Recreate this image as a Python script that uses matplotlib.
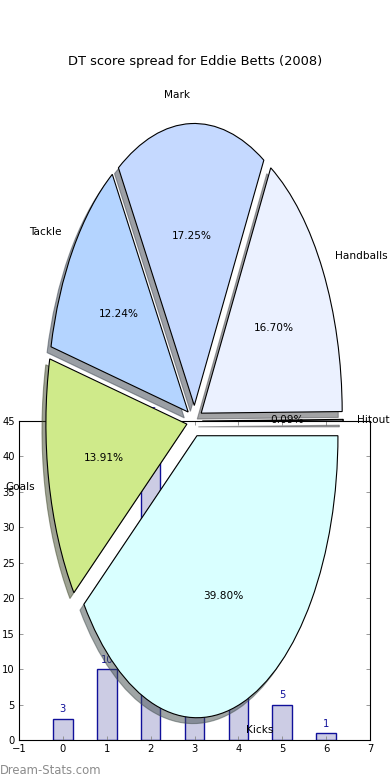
import matplotlib
matplotlib.use('Agg')
import matplotlib.pyplot as plt

# pie data (counterclockwise from 0 degrees)
pie_labels = ['Hitout', 'Handballs', 'Mark', 'Tackle', 'Goals', 'Kicks']
pie_pcts = [0.09, 16.70, 17.25, 12.24, 13.91, 39.80]
pie_colors = ['#f4f6ff', '#ebf1ff', '#c5d9ff', '#b4d4ff', '#cfea8a', '#d9ffff']

# bar data (bars 3 and 4 are hidden behind the pie)
bar_x = [0, 1, 2, 3, 4, 5, 6]
bar_vals = [3, 10, 45, 25, 12, 5, 1]

plt.rcParams['font.family'] = 'DejaVu Sans'

fig = plt.figure(figsize=(3.9, 7.8), dpi=100)

# bar axes, underneath
axb = fig.add_axes([19/390., 40/780., 351/390., 319/780.])
axb.bar(bar_x, bar_vals, width=0.45, align='center',
        facecolor='#ccccE4', edgecolor='#10109a', linewidth=1)
for x, v in zip(bar_x, bar_vals):
    axb.text(x, v + 0.6, str(v), ha='center', va='bottom',
             color='#10109a', fontsize=7.2)
axb.set_xlim(-1, 7)
axb.set_ylim(0, 45)
axb.set_xticks(range(-1, 8))
axb.set_yticks(range(0, 46, 5))
axb.tick_params(direction='in', top=True, right=True, length=3,
                width=0.6, color='#888888', labelsize=7.2, pad=3)

# pie axes, on top
axp = fig.add_axes([18.25/390., 6.5/780., 352.5/390., 705/780.])
axp.patch.set_visible(False)
axp.pie(pie_pcts, labels=pie_labels, colors=pie_colors,
        explode=[0.055] * len(pie_pcts), autopct='%1.2f%%',
        shadow={'ox': -0.02, 'oy': -0.015}, startangle=0,
        wedgeprops={'edgecolor': 'black', 'linewidth': 0.8},
        textprops={'fontsize': 7.6})
axp.set_aspect('auto')
axp.set_xlim(-1.25, 1.25)
axp.set_ylim(-1.25, 1.25)

fig.text(195/390., 1 - 61/780., 'DT score spread for Eddie Betts (2008)',
         fontsize=9.4, ha='center', va='center')

fig.text(0.0, 1 - 770/780., 'Dream-Stats.com', color='#8c8c8c',
         fontsize=8.4, ha='left', va='center')

fig.savefig('out.png', dpi=100, facecolor='white')
